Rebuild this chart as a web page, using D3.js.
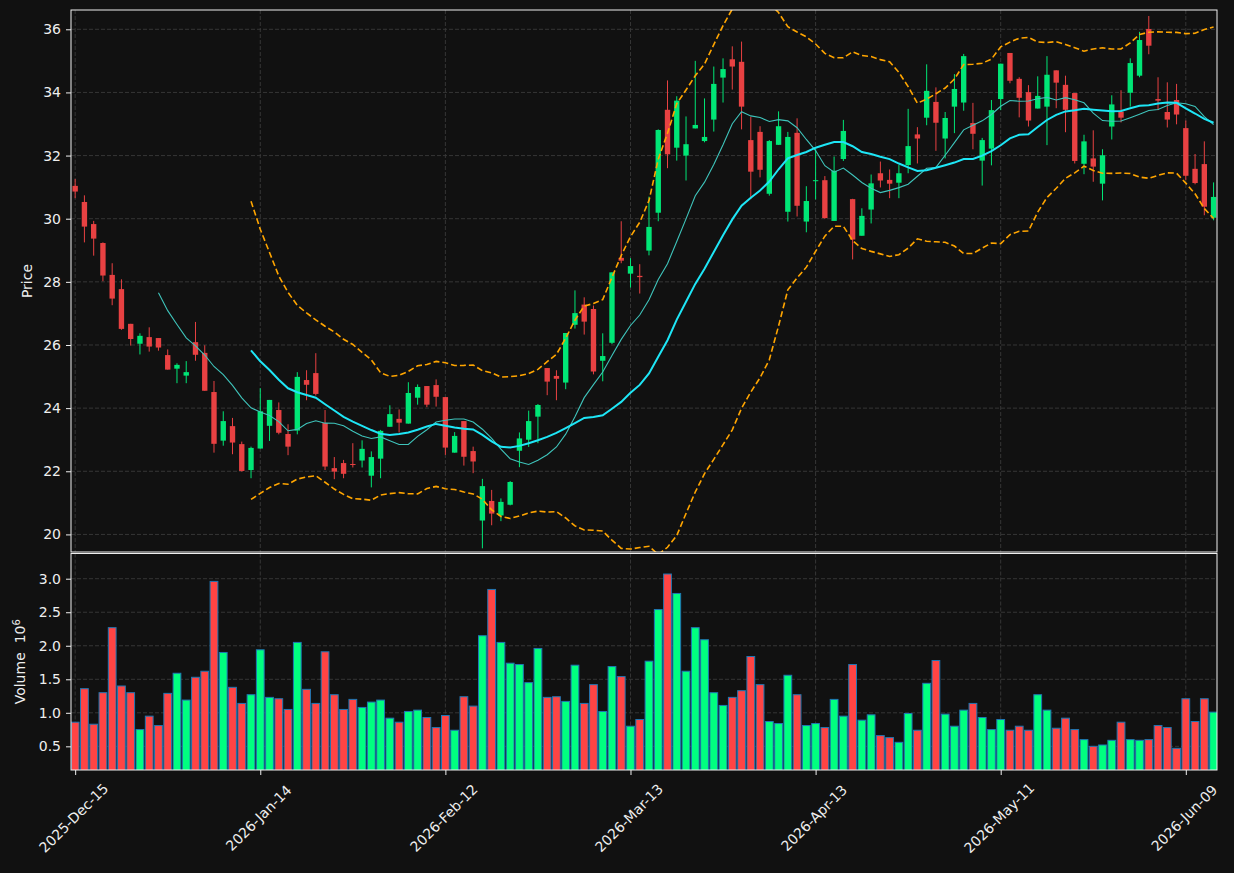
<!DOCTYPE html>
<html>
<head>
<meta charset="utf-8">
<script src="https://cdn.jsdelivr.net/npm/d3@7"></script>
<style>
  body { margin: 0; background: #111111; }
  text { font-family: "DejaVu Sans", sans-serif; }
</style>
</head>
<body>
<script>
// daily OHLC, one value per trading day
var openP = [31.04,30.53,29.83,29.23,28.22,27.77,26.67,26.04,26.25,26.22,
  25.68,25.25,25.03,26.09,25.75,24.51,22.97,23.43,22.86,22.04,
  22.72,23.44,23.94,23.18,23.29,24.89,25.11,23.53,22.10,22.26,
  22.23,22.34,21.86,22.40,23.41,23.66,23.51,24.33,24.70,24.73,
  24.35,22.59,23.59,22.64,20.44,21.06,20.60,20.94,22.65,23.00,
  23.73,25.27,25.02,24.81,26.64,27.28,27.14,25.50,26.07,28.76,
  28.26,28.19,28.99,30.19,33.45,32.25,32.00,32.86,32.46,33.14,
  34.47,35.05,34.97,32.49,32.75,30.79,32.34,30.22,32.72,29.91,
  31.20,31.22,29.93,31.89,30.62,29.46,30.29,31.44,31.23,31.14,
  31.70,32.67,33.20,33.70,32.54,33.55,33.68,33.03,31.84,32.22,
  33.79,35.25,34.43,34.01,33.49,33.55,34.70,34.24,33.98,31.74,
  31.91,31.11,32.92,33.39,33.99,34.53,36.01,33.79,33.38,33.76,
  32.87,31.58,31.73,30.03];
var highP = [31.26,30.74,29.93,29.25,28.59,28.08,26.67,26.37,26.56,26.22,
  25.86,25.42,25.49,26.73,25.99,24.86,23.90,23.69,22.94,22.78,
  24.63,24.26,24.18,23.49,25.14,25.20,25.74,23.94,22.45,22.36,
  22.89,22.98,22.63,23.31,24.09,23.96,24.82,24.75,24.70,24.91,
  24.35,23.24,23.59,22.78,21.76,21.41,21.14,21.69,23.23,23.92,
  24.13,25.27,25.20,26.38,27.73,27.51,27.25,26.37,28.30,29.92,
  28.75,28.56,30.70,32.83,34.38,33.88,33.24,35.00,33.81,34.82,
  35.08,35.46,35.61,33.23,32.93,32.49,33.40,32.75,33.18,31.03,
  32.23,31.35,31.97,33.13,30.63,30.33,31.40,31.81,31.56,31.70,
  33.48,32.90,34.89,34.16,33.38,34.58,35.22,33.67,32.56,33.76,
  34.91,35.25,34.48,34.23,34.51,35.15,34.70,34.53,33.98,32.66,
  32.80,32.20,33.91,34.07,35.08,35.92,36.42,34.48,34.32,34.27,
  33.11,32.05,32.45,31.15];
var lowP = [30.65,29.25,28.83,28.02,27.26,26.48,25.98,25.70,25.79,25.82,
  25.22,24.79,24.79,25.50,24.55,22.59,22.81,22.54,21.99,21.78,
  22.72,22.96,23.17,22.51,23.17,24.25,24.40,22.04,21.75,21.78,
  22.12,22.12,21.49,21.78,23.41,23.23,23.51,24.11,24.03,24.05,
  22.52,22.59,22.18,21.94,19.56,20.29,20.42,20.92,22.13,22.77,
  22.89,24.41,24.25,24.60,26.52,26.33,25.07,24.85,26.03,28.59,
  27.82,27.63,28.84,29.92,31.60,31.84,31.21,32.86,32.42,32.76,
  33.68,34.09,32.83,30.62,31.31,30.73,32.34,29.91,30.07,29.57,
  30.61,30.00,29.93,31.83,28.71,29.46,29.85,30.99,30.65,30.65,
  31.44,31.75,32.96,32.15,31.91,32.71,33.42,32.20,31.05,31.69,
  33.44,34.29,33.21,32.92,33.49,32.33,33.50,32.74,31.75,31.41,
  31.17,30.58,32.51,33.05,33.55,34.48,35.21,33.44,32.89,32.99,
  31.23,31.09,30.11,29.95];
var closeP = [30.86,29.75,29.37,28.20,27.47,26.51,26.19,26.29,25.95,25.92,
  25.22,25.37,25.14,25.69,24.55,22.87,23.59,22.91,22.01,22.74,
  23.90,24.26,23.22,22.78,24.99,24.74,24.45,22.15,21.99,21.92,
  22.20,22.71,22.45,23.28,23.81,23.54,24.48,24.67,24.11,24.36,
  22.75,23.12,22.46,22.31,21.53,20.66,21.03,21.66,23.04,23.59,
  24.10,24.84,24.93,26.38,27.01,26.74,25.16,25.65,28.30,28.67,
  28.50,28.15,29.74,32.81,32.04,33.74,32.36,32.97,32.59,34.27,
  34.74,34.82,33.55,31.49,31.55,32.46,32.93,32.59,30.41,30.56,
  31.22,30.02,31.52,32.78,29.34,30.09,31.12,31.21,31.11,31.44,
  32.30,32.54,34.05,33.04,33.19,34.11,35.15,32.69,32.49,33.44,
  34.91,34.37,33.83,33.11,33.89,34.56,34.31,33.45,31.83,32.45,
  31.65,32.01,33.62,33.20,34.93,35.66,35.48,33.74,33.14,33.30,
  31.36,31.13,30.38,30.69];
// volume in millions
var volume = [0.86,1.36,0.83,1.30,2.27,1.40,1.30,0.75,0.95,0.81,
  1.29,1.59,1.19,1.53,1.62,2.96,1.90,1.38,1.14,1.27,
  1.94,1.23,1.21,1.05,2.05,1.35,1.14,1.91,1.27,1.05,
  1.20,1.08,1.16,1.19,0.92,0.86,1.02,1.04,0.93,0.78,
  0.96,0.74,1.24,1.10,2.15,2.84,2.05,1.74,1.72,1.45,
  1.96,1.23,1.24,1.17,1.71,1.14,1.42,1.02,1.69,1.54,
  0.80,0.90,1.77,2.54,3.07,2.78,1.62,2.27,2.09,1.30,
  1.11,1.23,1.33,1.84,1.42,0.87,0.84,1.56,1.27,0.81,
  0.84,0.78,1.20,0.95,1.72,0.89,0.97,0.66,0.63,0.56,
  0.99,0.74,1.44,1.78,0.98,0.80,1.04,1.14,0.93,0.75,
  0.90,0.74,0.80,0.74,1.27,1.04,0.77,0.92,0.75,0.60,
  0.50,0.52,0.59,0.86,0.60,0.59,0.60,0.81,0.78,0.47,
  1.21,0.87,1.21,1.01];
var startDate = '2025-12-15';
var holidays = ['2025-12-25', '2026-01-01', '2026-01-19', '2026-02-16', '2026-04-03', '2026-05-25'];
var priceTicks = [20, 22, 24, 26, 28, 30, 32, 34, 36];
var volumeTicks = [0.5, 1.0, 1.5, 2.0, 2.5, 3.0];
var tickEvery = 20;

var n = closeP.length;

// trading days (weekdays minus exchange holidays)
var dates = [];
var d = new Date(startDate + 'T00:00:00Z');
while (dates.length < n) {
  var key = d.toISOString().slice(0, 10);
  var wd = d.getUTCDay();
  if (wd !== 0 && wd !== 6 && holidays.indexOf(key) < 0) dates.push(new Date(d));
  d = new Date(d.getTime() + 86400000);
}
var fmtDate = d3.utcFormat('%Y-%b-%d');

function sma(arr, w) {
  return arr.map(function(v, i) {
    if (i < w - 1) return null;
    return d3.mean(arr.slice(i - w + 1, i + 1));
  });
}
function band(arr, w, k) {
  return arr.map(function(v, i) {
    if (i < w - 1) return null;
    var s = arr.slice(i - w + 1, i + 1);
    var m = d3.mean(s);
    var sd = Math.sqrt(d3.mean(s, function(x) { return (x - m) * (x - m); }));
    return m + k * sd;
  });
}
var ma10 = sma(closeP, 10);
var ma20 = sma(closeP, 20);
var bbUp = band(closeP, 20, 2);
var bbLo = band(closeP, 20, -2);

var W = 1234, H = 873;
var left = 71, right = 1217;
var pTop = 10, pBot = 552, vTop = 553.5, vBot = 770;

var svg = d3.select('body').append('svg')
  .attr('width', W)
  .attr('height', H)
  .style('background', '#111111');

var x = d3.scaleLinear().domain([-0.45, n - 0.63]).range([left, right]);
var y = d3.scaleLinear().domain([19.443, 36.611]).range([pBot, pTop]);
var yv = d3.scaleLinear().domain([0.147, 3.376]).range([vBot, vTop]);
var step = x(1) - x(0);
var tickIdx = d3.range(0, n, tickEvery);

var defs = svg.append('defs');
defs.append('clipPath').attr('id', 'clipP').append('rect')
  .attr('x', left).attr('y', pTop).attr('width', right - left).attr('height', pBot - pTop);
defs.append('clipPath').attr('id', 'clipV').append('rect')
  .attr('x', left).attr('y', vTop).attr('width', right - left).attr('height', vBot - vTop);

var gridColor = '#3a3a3a';

// grid
var grid = svg.append('g');
grid.selectAll('.gp').data(priceTicks).enter().append('line')
  .attr('x1', left).attr('x2', right)
  .attr('y1', function(t) { return y(t); }).attr('y2', function(t) { return y(t); })
  .attr('stroke', gridColor).attr('stroke-width', 0.9).attr('stroke-dasharray', '4,2');
grid.selectAll('.gv').data(volumeTicks).enter().append('line')
  .attr('x1', left).attr('x2', right)
  .attr('y1', function(t) { return yv(t); }).attr('y2', function(t) { return yv(t); })
  .attr('stroke', gridColor).attr('stroke-width', 0.9).attr('stroke-dasharray', '4,2');
[[pTop, pBot], [vTop, vBot]].forEach(function(r) {
  grid.selectAll(null).data(tickIdx).enter().append('line')
    .attr('x1', function(i) { return x(i); }).attr('x2', function(i) { return x(i); })
    .attr('y1', r[0]).attr('y2', r[1])
    .attr('stroke', gridColor).attr('stroke-width', 0.9).attr('stroke-dasharray', '4,2');
});

var idx = d3.range(n);
var upCol = '#00e676', downCol = '#e84142';

// candles
var pg = svg.append('g').attr('clip-path', 'url(#clipP)');
pg.selectAll('.wick').data(idx).enter().append('line')
  .attr('x1', function(i) { return x(i); }).attr('x2', function(i) { return x(i); })
  .attr('y1', function(i) { return y(highP[i]); }).attr('y2', function(i) { return y(lowP[i]); })
  .attr('stroke', function(i) { return closeP[i] >= openP[i] ? upCol : downCol; })
  .attr('stroke-width', 1);
var bw = step * 0.58;
pg.selectAll('.body').data(idx).enter().append('rect')
  .attr('x', function(i) { return x(i) - bw / 2; })
  .attr('width', bw)
  .attr('y', function(i) { return y(Math.max(openP[i], closeP[i])); })
  .attr('height', function(i) { return Math.max(1, Math.abs(y(openP[i]) - y(closeP[i]))); })
  .attr('fill', function(i) { return closeP[i] >= openP[i] ? upCol : downCol; });

// moving averages and bands
function lineOf(arr) {
  return d3.line()
    .defined(function(i) { return arr[i] != null; })
    .x(function(i) { return x(i); })
    .y(function(i) { return y(arr[i]); })(idx);
}
pg.append('path').attr('d', lineOf(ma10)).attr('fill', 'none')
  .attr('stroke', '#3fc4bb').attr('stroke-width', 1.1);
pg.append('path').attr('d', lineOf(ma20)).attr('fill', 'none')
  .attr('stroke', '#1ee6f6').attr('stroke-width', 2);
[bbUp, bbLo].forEach(function(b) {
  pg.append('path').attr('d', lineOf(b)).attr('fill', 'none')
    .attr('stroke', '#ffa500').attr('stroke-width', 1.6).attr('stroke-dasharray', '6,3');
});

// volume bars
var vg = svg.append('g').attr('clip-path', 'url(#clipV)');
var vw = step * 0.84;
vg.selectAll('.vol').data(idx).enter().append('rect')
  .attr('x', function(i) { return x(i) - vw / 2; })
  .attr('width', vw)
  .attr('y', function(i) { return yv(volume[i]); })
  .attr('height', function(i) { return vBot - yv(volume[i]) + 2; })
  .attr('fill', function(i) { return closeP[i] >= openP[i] ? '#00ff80' : '#ff4444'; })
  .attr('stroke', '#1f77b4').attr('stroke-width', 1);

// frames
svg.append('rect').attr('x', left).attr('y', pTop).attr('width', right - left).attr('height', pBot - pTop)
  .attr('fill', 'none').attr('stroke', '#f0f0f0').attr('stroke-width', 1);
svg.append('rect').attr('x', left).attr('y', vTop).attr('width', right - left).attr('height', vBot - vTop)
  .attr('fill', 'none').attr('stroke', '#f0f0f0').attr('stroke-width', 1);

// axes
function styleAxis(g) {
  g.select('.domain').remove();
  g.selectAll('line').attr('stroke', '#f0f0f0');
  g.selectAll('text').attr('fill', '#eeeeee').style('font-size', '14px')
    .style('font-family', '"DejaVu Sans", sans-serif');
}
svg.append('g').attr('transform', 'translate(' + left + ',0)')
  .call(d3.axisLeft(y).tickValues(priceTicks).tickSize(5).tickPadding(5).tickFormat(d3.format('d')))
  .call(styleAxis);
svg.append('g').attr('transform', 'translate(' + left + ',0)')
  .call(d3.axisLeft(yv).tickValues(volumeTicks).tickSize(5).tickPadding(5).tickFormat(d3.format('.1f')))
  .call(styleAxis);
var xa = svg.append('g').attr('transform', 'translate(0,' + vBot + ')')
  .call(d3.axisBottom(x).tickValues(tickIdx).tickSize(5)
    .tickFormat(function(i) { return fmtDate(dates[i]); }))
  .call(styleAxis);
xa.selectAll('text')
  .attr('y', 0).attr('dy', '0.35em')
  .attr('text-anchor', 'middle')
  .attr('transform', 'translate(-2,48) rotate(-45)');

// axis titles
svg.append('text')
  .attr('transform', 'translate(27,' + (pTop + pBot) / 2 + ') rotate(-90)')
  .attr('text-anchor', 'middle').attr('dy', '0.35em')
  .attr('fill', '#eeeeee').style('font-size', '14px')
  .text('Price');
var vl = svg.append('text')
  .attr('transform', 'translate(20,' + (vTop + vBot) / 2 + ') rotate(-90)')
  .attr('text-anchor', 'middle').attr('dy', '0.35em')
  .attr('fill', '#eeeeee').style('font-size', '14px')
  .style('white-space', 'pre');
vl.append('tspan').text('Volume  10');
vl.append('tspan').attr('dy', '-0.45em').style('font-size', '10px').text('6');
</script>
</body>
</html>
